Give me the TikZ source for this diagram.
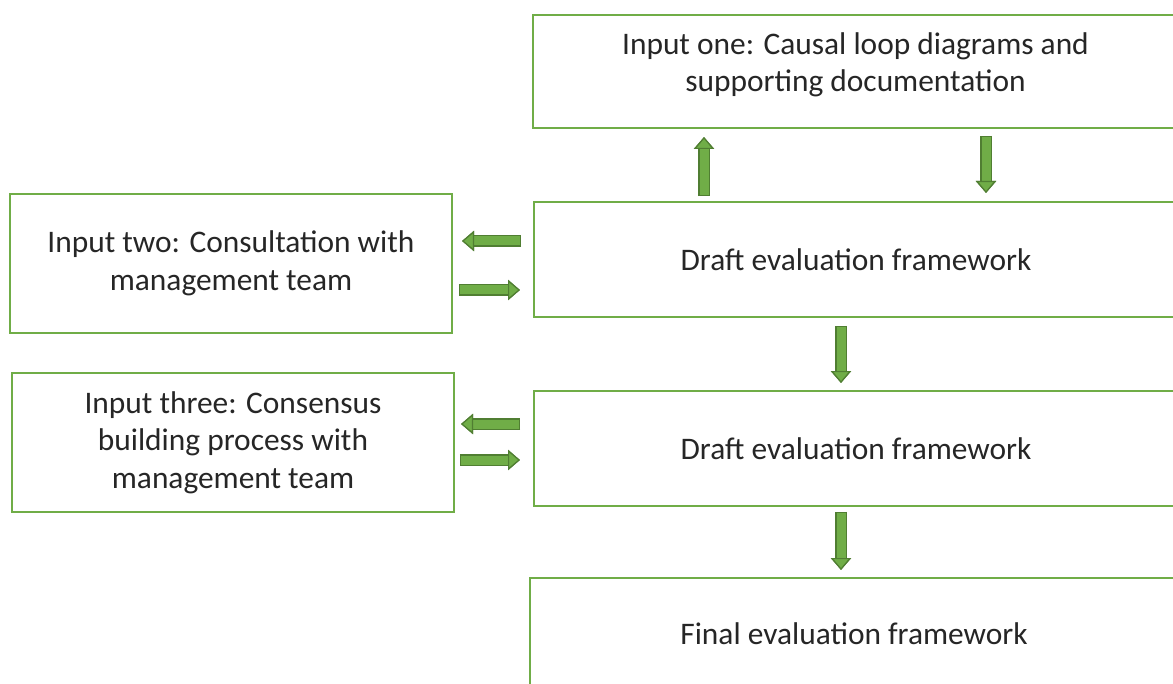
\documentclass[tikz,border=0pt]{standalone}
\usepackage{fontspec}
\setmainfont{Carlito}
\usetikzlibrary{arrows.meta}
\definecolor{boxgreen}{HTML}{70AD47}
\definecolor{arrgreen}{HTML}{70AD47}
\definecolor{arrdark}{HTML}{507E32}
\definecolor{txt}{HTML}{262626}
\begin{document}
\begin{tikzpicture}[x=0.5pt,y=-0.5pt,
  box/.style={draw=boxgreen, line width=1pt, fill=white, align=center,
    inner sep=0pt, anchor=north west, text=txt,
    font=\fontsize{15.7}{18.8}\selectfont},
  barrow/.style={line width=4.5pt, draw=arrgreen, line cap=butt,
    -{Triangle[width=10pt,length=6pt,fill=arrgreen,color=arrdark,line width=0.6pt]},
    preaction={draw=arrdark, line width=5.7pt, shorten <=-0.6pt,
      -{Triangle[width=10pt,length=6pt]}}}]
\useasboundingbox (0,0) rectangle (1173,684);
\clip (0,0) rectangle (1173,684);

% process boxes
\node[box, minimum width=322.5pt, minimum height=56.5pt] (top) at (532,14)
  {\raisebox{3pt}[\height][\depth]{\begin{tabular}{@{}c@{}}Input one: Causal loop diagrams and\\supporting documentation\end{tabular}}};
\node[box, minimum width=322pt, minimum height=57.5pt] (draft1) at (533,201)
  {Draft evaluation framework};
\node[box, minimum width=322pt, minimum height=57.5pt] (draft2) at (533,390)
  {Draft evaluation framework};
\node[box, minimum width=324pt, minimum height=55.5pt] (final) at (529,577)
  {Final evaluation framework};
\node[box, minimum width=221pt, minimum height=69.5pt] (inA) at (9,193)
  {Input two: Consultation with\\management team};
\node[box, minimum width=221pt, minimum height=69.5pt] (inB) at (11,372)
  {Input three: Consensus\\building process with\\management team};

% block arrows between boxes
\draw[barrow] ([xshift=-76pt,yshift=3pt]draft1.north) -- ([xshift=-76pt,yshift=-4pt]top.south -| draft1.north);
\draw[barrow] ([xshift=65.25pt,yshift=-4pt]top.south) -- ([xshift=65.25pt,yshift=4pt]draft1.north -| top.south);
\draw[barrow] ([xshift=-6.5pt,yshift=9.25pt]draft1.west) -- ([xshift=4.5pt,yshift=9.25pt]draft1.west -| inA.east);
\draw[barrow] ([xshift=3.5pt,yshift=-15.25pt]draft1.west -| inA.east) -- ([xshift=-6.5pt,yshift=-15.25pt]draft1.west);
\draw[barrow] ([xshift=-7.5pt,yshift=-4.5pt]draft1.south) -- ([xshift=-7.5pt,yshift=3.5pt]draft2.north);
\draw[barrow] ([xshift=-7pt,yshift=12.25pt]draft2.west) -- ([xshift=3pt,yshift=12.25pt]draft2.west -| inB.east);
\draw[barrow] ([xshift=3pt,yshift=-5.75pt]draft2.west -| inB.east) -- ([xshift=-6.5pt,yshift=-5.75pt]draft2.west);
\draw[barrow] ([xshift=-7.5pt,yshift=-3pt]draft2.south) -- ([xshift=-7.5pt,yshift=3.5pt]final.north -| draft2.south);
\end{tikzpicture}
\end{document}
